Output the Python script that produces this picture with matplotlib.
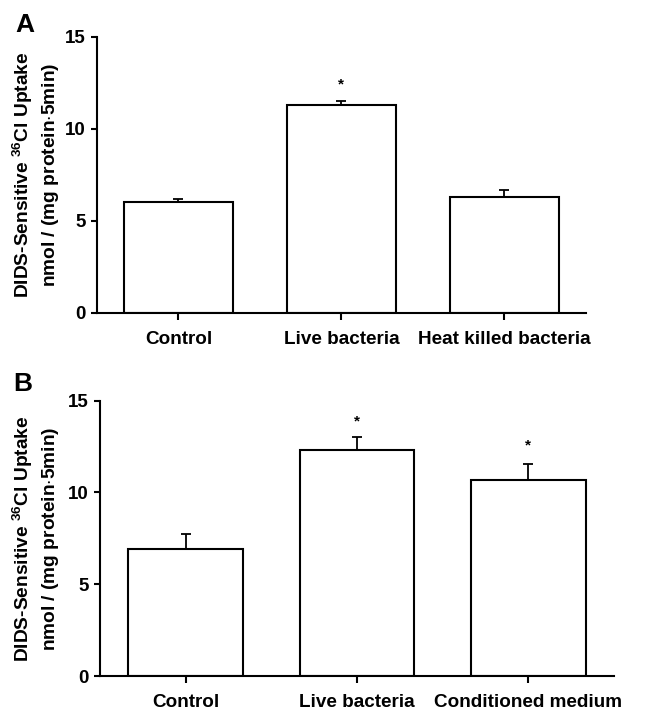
import matplotlib
matplotlib.use('Agg')
import matplotlib.pyplot as plt
import matplotlib as mpl

mpl.rcParams['font.family'] = ['Liberation Sans', 'DejaVu Sans']
mpl.rcParams['font.weight'] = 'bold'
mpl.rcParams['mathtext.fontset'] = 'custom'
mpl.rcParams['mathtext.rm'] = 'Liberation Sans'
mpl.rcParams['mathtext.bf'] = 'Liberation Sans:bold'
mpl.rcParams['axes.spines.right'] = False
mpl.rcParams['axes.spines.top'] = False

# panel A
cats_a = ['Control', 'Live bacteria', 'Heat killed bacteria']
vals_a = [6.02, 11.29, 6.29]
err_a = [0.15, 0.23, 0.38]
star_a = [None, 12.4, None]

# panel B
cats_b = ['Control', 'Live bacteria', 'Conditioned medium']
vals_b = [6.94, 12.30, 10.66]
err_b = [0.80, 0.70, 0.88]
star_b = [None, 13.88, 12.57]

ylab = 'DIDS-Sensitive $^{36}$Cl Uptake\nnmol / (mg protein$\\cdot$5min)'

fig = plt.figure(figsize=(6.48, 7.21), dpi=100)
ax_a = fig.add_axes([0.1497, 0.5659, 0.7542, 0.3828])
ax_b = fig.add_axes([0.1543, 0.0624, 0.7932, 0.3818])

for ax, cats, vals, err, stars, yc in [(ax_a, cats_a, vals_a, err_a, star_a, 0.757),
                                        (ax_b, cats_b, vals_b, err_b, star_b, 0.253)]:
    x = list(range(len(cats)))
    ax.bar(x, vals, width=0.67, color='white', edgecolor='black', linewidth=1.5, zorder=2)
    ax.errorbar(x, vals, yerr=[[0] * len(err), err], fmt='none', ecolor='black',
                elinewidth=1.3, capsize=3.5, capthick=1.3, zorder=1)
    for xi, s in zip(x, stars):
        if s is not None:
            ax.text(xi, s, '*', ha='center', va='center', fontsize=11, fontweight='bold')
    ax.set_xlim(-0.5, 2.5)
    ax.set_ylim(0, 15)
    ax.set_yticks([0, 5, 10, 15])
    ax.set_xticks(x)
    ax.set_xticklabels(cats, fontsize=13.6, fontweight='bold')
    ax.tick_params(axis='y', labelsize=13.5, direction='out', length=4, width=1.5, pad=4)
    ax.tick_params(axis='x', direction='out', length=5, width=1.5, pad=8)
    for lab in ax.get_yticklabels():
        lab.set_fontweight('bold')
    for sp in ['left', 'bottom']:
        ax.spines[sp].set_linewidth(1.5)
    fig.text(0.055, yc, ylab, rotation=90, ha='center', va='center',
             fontsize=13.8, fontweight='bold', multialignment='center', linespacing=1.3)

fig.text(0.023, 0.982, 'A', fontsize=19, fontweight='bold', ha='left', va='top')
fig.text(0.020, 0.484, 'B', fontsize=19, fontweight='bold', ha='left', va='top')

plt.savefig('out.png', dpi=100)
